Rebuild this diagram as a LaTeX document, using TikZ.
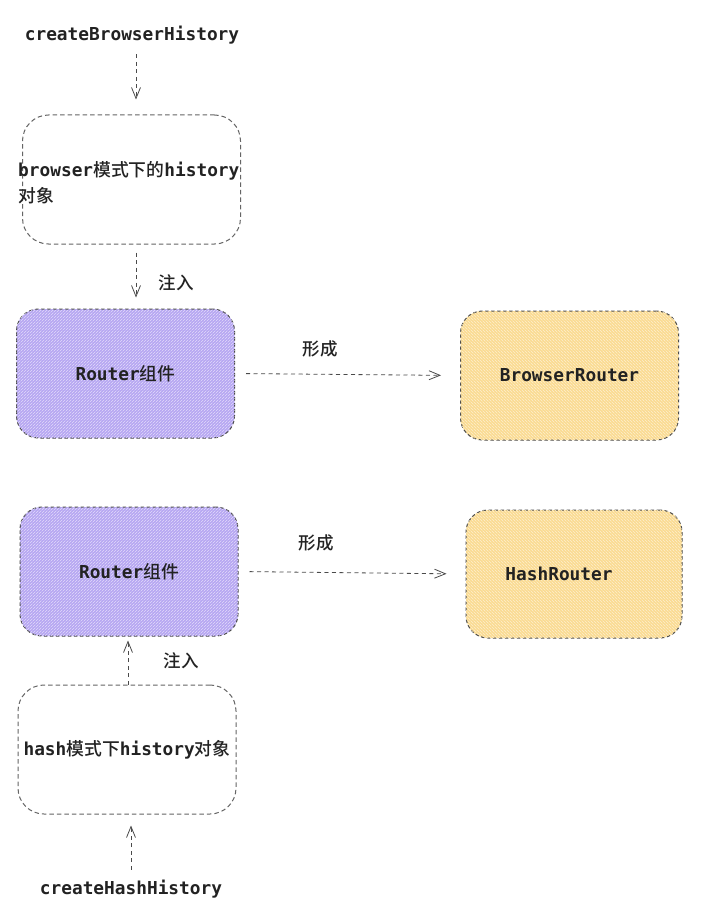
\documentclass[tikz,border=0pt]{standalone}
\usepackage{fontspec}
\setmonofont{DejaVu Sans Mono}
\newfontfamily\cjk{Noto Sans CJK SC}[UprightFont=* Medium]
\usetikzlibrary{arrows.meta,patterns}
\newcommand{\zh}[1]{{\cjk\mdseries #1}}
\definecolor{lav}{HTML}{B6A6F2}
\definecolor{sand}{HTML}{FADB92}
\definecolor{edge}{HTML}{4A4A4A}
\definecolor{ink}{HTML}{222222}
\tikzset{
  txt/.style={inner sep=0pt, text=ink, font=\ttfamily\bfseries\fontsize{17.8}{26}\selectfont},
  zhtxt/.style={inner sep=0pt, text=ink, font=\cjk\fontsize{17.5}{21}\selectfont},
  box/.style={draw=edge, line width=1pt, dash pattern=on 3.5pt off 2.5pt, rounded corners=22pt,
    minimum width=218pt, minimum height=129pt, inner sep=0pt, text=ink,
    font=\ttfamily\bfseries\fontsize{17.8}{26}\selectfont},
  wbox/.style={box, fill=white, rounded corners=26pt, draw=edge!85, dash pattern=on 4.5pt off 3pt},
  pbox/.style={box, fill=lav, postaction={pattern=north east lines, pattern color=white!60!lav}},
  ybox/.style={box, fill=sand, postaction={pattern=north west lines, pattern color=white!55!sand}},
  arr/.style={draw=edge, line width=0.8pt, dash pattern=on 4pt off 3.5pt,
    -{Straight Barb[length=11pt,width=9pt,line width=0.8pt]}},
}
\begin{document}
\begin{tikzpicture}[x=1pt,y=-1pt]
\path[fill=white] (0,0) rectangle (714,912);
\useasboundingbox (0,0) rectangle (714,912);

% top branch
\node[txt] (cbh) at (132,35) {createBrowserHistory};
\node[wbox] (bh) at (131.5,179.5) {};
\node[txt, anchor=west, align=left] (bhtxt) at (18,183) {browser\zh{模式下的}history\\\zh{对象}};
\node[pbox] (r1) at (125.5,373.5) {Router\zh{组件}};
\node[ybox] (br) at (569.5,375.5) {BrowserRouter};

\draw[arr, shorten <=10pt, shorten >=15pt] ([xshift=4pt]cbh.south) -- ([xshift=4.5pt]bh.north);
\draw[arr, shorten <=8pt, shorten >=11pt] ([xshift=4.5pt]bh.south) -- ([xshift=10.5pt]r1.north);
\node[zhtxt] (in1) at (176,283) {注入};
\draw[arr, shorten <=11pt, shorten >=19pt] (r1.east) -- (br.west);
\node[zhtxt] (fc1) at (320,349) {形成};

% bottom branch
\node[pbox] (r2) at (129,571.5) {Router\zh{组件}};
\node[ybox, minimum width=216pt, minimum height=128pt,
  label={[txt, xshift=-15pt]center:HashRouter}] (hr) at (574,574) {};
\node[wbox] (hh) at (127,749.5) {hash\zh{模式下}history\zh{对象}};
\node[txt] (chh) at (131,889) {createHashHistory};

\draw[arr, shorten <=0pt, shorten >=4pt] ([xshift=1pt]hh.north) -- ([xshift=-1pt]r2.south);
\node[zhtxt] (in2) at (181,661) {注入};
\draw[arr, shorten <=11pt, shorten >=19pt] (r2.east) -- (hr.west);
\node[zhtxt] (fc2) at (316,543) {形成};
\draw[arr, shorten <=10pt, shorten >=11pt] (chh.north) -- ([xshift=4pt]hh.south);
\end{tikzpicture}
\end{document}
